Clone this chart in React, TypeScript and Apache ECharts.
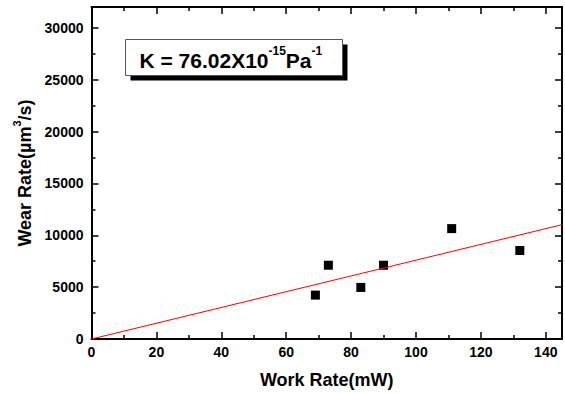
import React, { useEffect, useRef } from "react";
import * as echarts from "echarts";

// Measured wear rate against work rate
const workRate = [69, 73, 83, 90, 111, 132];
const wearRate = [4230, 7110, 4970, 7110, 10640, 8530];

// Linear fit through origin (K = 76.02)
const fitX = [0, 145];
const fitY = [0, 11020];

const xTicks = [0, 20, 40, 60, 80, 100, 120, 140];
const yTicks = [0, 5000, 10000, 15000, 20000, 25000, 30000];

const FONT = "'Liberation Sans', Arial, sans-serif";

export default function App() {
  const ref = useRef<HTMLDivElement>(null);

  useEffect(() => {
    if (!ref.current) return;
    const chart = echarts.init(ref.current, undefined, { renderer: "svg" });

    const axisLine = { show: true, onZero: false, lineStyle: { color: "#000", width: 2 } };
    const axisTick = { show: true, inside: true, length: 7, lineStyle: { color: "#000", width: 1.5 } };
    const minorTick = { show: true, splitNumber: 2, length: 4, lineStyle: { color: "#000", width: 1.5 } };
    const labelStyle = { color: "#000", fontFamily: FONT, fontWeight: "bold" as const, fontSize: 14 };

    const xBase = {
      type: "value" as const,
      min: 0,
      max: 145,
      interval: 20,
      axisLine,
      axisTick,
      minorTick,
      splitLine: { show: false },
    };
    const yBase = {
      type: "value" as const,
      min: 0,
      max: 32000,
      interval: 5000,
      axisLine,
      axisTick,
      minorTick,
      splitLine: { show: false },
    };

    chart.setOption({
      animation: false,
      backgroundColor: "#fff",
      grid: { left: 91.5, right: 2, top: 7, bottom: 54, containLabel: false },
      xAxis: [
        {
          ...xBase,
          position: "bottom",
          axisLabel: {
            ...labelStyle,
            margin: 6,
            formatter: (v: number) => (xTicks.includes(v) ? String(v) : ""),
          },
          name: "Work Rate(mW)",
          nameLocation: "middle",
          nameGap: 32,
          nameTextStyle: { color: "#000", fontFamily: FONT, fontWeight: "bold", fontSize: 18 },
        },
        { ...xBase, position: "top", axisLabel: { show: false } },
      ],
      yAxis: [
        {
          ...yBase,
          position: "left",
          axisLabel: {
            ...labelStyle,
            margin: 8,
            formatter: (v: number) => (yTicks.includes(v) ? String(v) : ""),
          },
          name: "{n|Wear Rate(\u00b5m}{s|3}{n|/s)}",
          nameLocation: "middle",
          nameGap: 52,
          nameTextStyle: {
            color: "#000",
            fontFamily: FONT,
            fontWeight: "bold",
            fontSize: 18,
            rich: {
              n: { color: "#000", fontFamily: FONT, fontWeight: "bold", fontSize: 18, lineHeight: 22, verticalAlign: "bottom" },
              s: { color: "#000", fontFamily: FONT, fontWeight: "bold", fontSize: 11, lineHeight: 22, verticalAlign: "top" },
            },
          },
        },
        { ...yBase, position: "right", axisLabel: { show: false } },
      ],
      graphic: [
        {
          type: "group",
          left: 125,
          top: 39,
          children: [
            { type: "rect", shape: { x: 5, y: 5, width: 217, height: 36 }, style: { fill: "#000" } },
            { type: "rect", shape: { x: 0, y: 0, width: 217, height: 36 }, style: { fill: "#fff", stroke: "#555", lineWidth: 1 } },
            {
              type: "text",
              x: 14,
              y: 5,
              style: {
                text: "{a|K = 76.02X10}{s|-15}{a|Pa}{s|-1}",
                rich: {
                  a: { fontFamily: FONT, fontWeight: "bold", fontSize: 21, fill: "#000", lineHeight: 26, verticalAlign: "bottom" },
                  s: { fontFamily: FONT, fontWeight: "bold", fontSize: 12, fill: "#000", lineHeight: 26, verticalAlign: "top" },
                },
              },
            },
          ],
        },
      ],
      series: [
        {
          type: "line",
          data: fitX.map((x, i) => [x, fitY[i]]),
          symbol: "none",
          lineStyle: { color: "#ff0000", width: 1 },
          xAxisIndex: 0,
          yAxisIndex: 0,
          silent: true,
        },
        {
          type: "scatter",
          data: workRate.map((x, i) => [x, wearRate[i]]),
          symbol: "rect",
          symbolSize: 9,
          itemStyle: { color: "#000", opacity: 1 },
          xAxisIndex: 0,
          yAxisIndex: 0,
        },
      ],
    });

    return () => chart.dispose();
  }, []);

  return (
    <div
      ref={ref}
      style={{ position: "fixed", left: 0, top: 0, width: 565, height: 394 }}
    />
  );
}
